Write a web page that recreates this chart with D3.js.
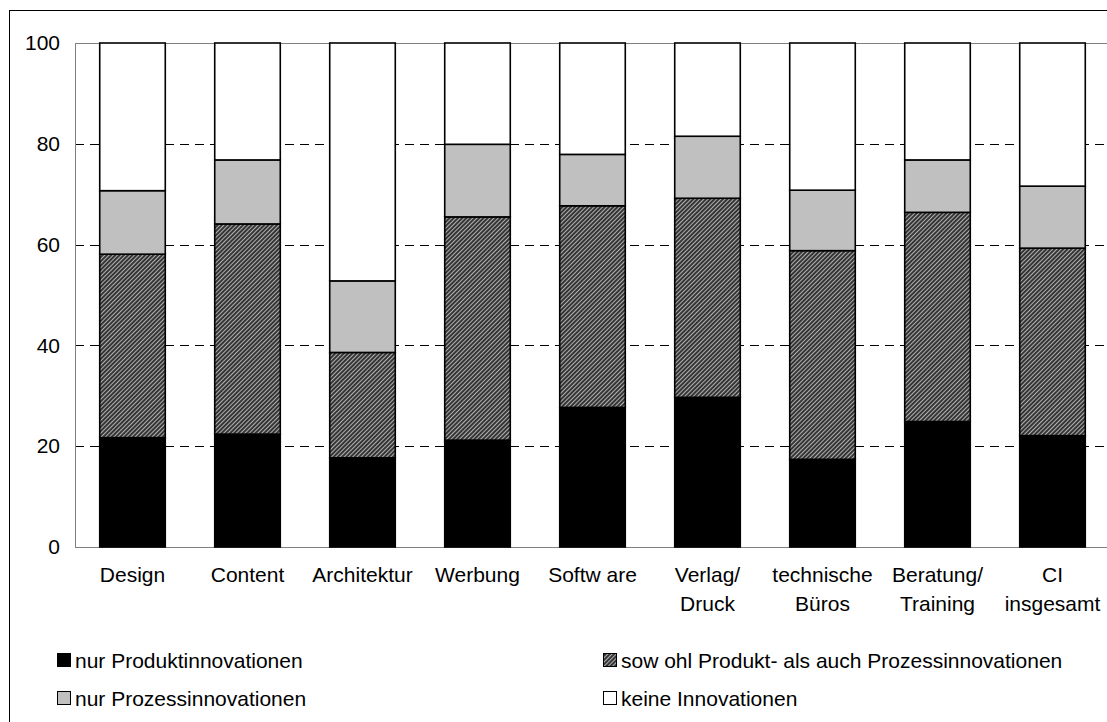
<!DOCTYPE html>
<html lang="de">
<head>
    <meta charset="UTF-8">
    <title>Innovationen</title>
    <script src="https://cdn.jsdelivr.net/npm/d3@7/dist/d3.min.js"></script>
    <style>
        body { margin: 0; background: #fff; }
        text { font-family: "Liberation Sans", Arial, sans-serif; fill: #000; }
    </style>
</head>
<body>

<svg width="1107" height="722"></svg>

<script>

    // Daten (Anteile in %)
    var categories = [["Design"], ["Content"], ["Architektur"], ["Werbung"], ["Softw are"],
        ["Verlag/", "Druck"], ["technische", "Büros"], ["Beratung/", "Training"], ["CI", "insgesamt"]];
    var nurProdukt = [21.7, 22.4, 17.7, 21.2, 27.7, 29.7, 17.4, 24.9, 22.1];
    var beides     = [36.4, 41.7, 20.9, 44.3, 40.0, 39.5, 41.4, 41.5, 37.2];
    var nurProzess = [12.6, 12.7, 14.2, 14.4, 10.2, 12.3, 12.0, 10.4, 12.3];
    var keine      = [29.3, 23.2, 47.2, 20.1, 22.1, 18.5, 29.2, 23.2, 28.4];
    var yTicks = [0, 20, 40, 60, 80, 100];
    var seriesNames = ["nur Produktinnovationen", "sow ohl Produkt- als auch Prozessinnovationen",
        "nur Prozessinnovationen", "keine Innovationen"];

    var keys = ["p", "b", "z", "k"];
    var rows = categories.map(function (c, i) {
        return {cat: c.join(" "), p: nurProdukt[i], b: beides[i], z: nurProzess[i], k: keine[i]};
    });

    var svg = d3.select("svg");

    // Muster für "beides"
    var defs = svg.append("defs");
    var pat = defs.append("pattern")
        .attr("id", "hatch")
        .attr("patternUnits", "userSpaceOnUse")
        .attr("width", 3)
        .attr("height", 3)
        .attr("patternTransform", "rotate(45)");
    pat.append("rect").attr("width", 3).attr("height", 3).attr("fill", "#b0b0b0");
    pat.append("line").attr("x1", 1).attr("y1", 0).attr("x2", 1).attr("y2", 3)
        .attr("stroke", "#000").attr("stroke-width", 1.4);

    var fills = {p: "#000", b: "url(#hatch)", z: "#c0c0c0", k: "#fff"};

    // äußerer Rahmen
    svg.append("rect")
        .attr("x", 9.5).attr("y", 10.5)
        .attr("width", 1200).attr("height", 800)
        .attr("fill", "none").attr("stroke", "#000");

    var plotL = 75, plotR = 1110, plotT = 43, plotB = 547;

    var x = d3.scaleBand()
        .domain(rows.map(function (d) { return d.cat; }))
        .range([plotL, plotR])
        .paddingInner(0.43)
        .paddingOuter(0.215);

    var y = d3.scaleLinear().domain([0, 100]).range([plotB, plotT]);

    // Gitterlinien
    svg.append("g")
        .selectAll("line")
        .data(yTicks.filter(function (t) { return t > 0 && t < 100; }))
        .enter()
        .append("line")
        .attr("x1", plotL).attr("x2", plotR)
        .attr("y1", function (d) { return Math.round(y(d)) + 0.5; })
        .attr("y2", function (d) { return Math.round(y(d)) + 0.5; })
        .attr("stroke", "#000")
        .attr("stroke-dasharray", "9,6");

    // Rahmen der Zeichenfläche
    svg.append("rect")
        .attr("x", plotL + 0.5).attr("y", Math.round(y(100)) + 0.5)
        .attr("width", plotR - plotL).attr("height", Math.round(y(0)) - Math.round(y(100)))
        .attr("fill", "none").attr("stroke", "#808080");

    // gestapelte Balken
    var stacked = d3.stack().keys(keys)(rows);

    svg.append("g")
        .selectAll("g")
        .data(stacked)
        .enter()
        .append("g")
        .attr("fill", function (s) { return fills[s.key]; })
        .selectAll("rect")
        .data(function (s) { return s; })
        .enter()
        .append("rect")
        .attr("x", function (d) { return x(d.data.cat); })
        .attr("width", x.bandwidth())
        .attr("y", function (d) { return y(d[1]); })
        .attr("height", function (d) { return y(d[0]) - y(d[1]); })
        .attr("stroke", "#000")
        .attr("stroke-width", 1.6);

    // y-Achse
    var yAxis = d3.axisLeft(y).tickValues(yTicks).tickSize(0).tickPadding(15);
    var ya = svg.append("g")
        .attr("transform", "translate(" + plotL + ",0)")
        .call(yAxis);
    ya.select(".domain").remove();
    ya.selectAll("text")
        .style("font-family", "'Liberation Sans', Arial, sans-serif")
        .style("font-size", "21px");

    // x-Beschriftung
    var xl = svg.append("g")
        .selectAll("text")
        .data(categories)
        .enter()
        .append("text")
        .attr("text-anchor", "middle")
        .attr("font-size", 21)
        .attr("x", function (d) { return x(d.join(" ")) + x.bandwidth() / 2; })
        .attr("y", 582);
    xl.selectAll("tspan")
        .data(function (d) { return d; })
        .enter()
        .append("tspan")
        .attr("x", function () { return d3.select(this.parentNode).attr("x"); })
        .attr("dy", function (d, i) { return i == 0 ? 0 : 29; })
        .text(function (d) { return d; });

    // Legende
    var legPos = [[57, 668], [603, 668], [57, 706], [603, 706]];
    var lg = svg.append("g")
        .selectAll("g")
        .data(keys)
        .enter()
        .append("g")
        .attr("transform", function (d, i) { return "translate(" + legPos[i][0] + "," + legPos[i][1] + ")"; });
    lg.append("rect")
        .attr("x", 0.5).attr("y", -14.5)
        .attr("width", 13).attr("height", 13)
        .attr("fill", function (d) { return fills[d]; })
        .attr("stroke", "#000");
    lg.append("text")
        .attr("x", 18)
        .attr("font-size", 21)
        .text(function (d, i) { return seriesNames[i]; });

</script>
</body>
</html>
